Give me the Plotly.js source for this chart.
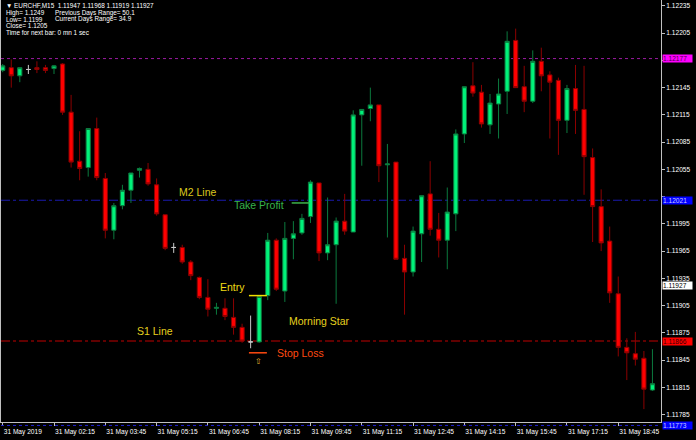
<!DOCTYPE html>
<html><head><meta charset="utf-8">
<script src="https://cdn.plot.ly/plotly-3.0.1.min.js"></script>
<style>html,body{margin:0;padding:0;background:#000;}#chart{width:696px;height:440px;}</style>
</head><body><div id="chart"></div>
<script>
// EURCHF M15, 31 May 2019, bars from 00:45 to 19:45
const open = [
1.12164, 1.12167, 1.12158, 1.12165, 1.12167, 1.12167, 1.12166, 1.12171, 1.12118, 1.12064,
1.12057, 1.12100, 1.12045, 1.11988, 1.12015, 1.12032, 1.12054, 1.12055, 1.12038, 1.12005,
1.11969, 1.11969, 1.11953, 1.11936, 1.11914, 1.11902, 1.11902, 1.11892, 1.11881, 1.11865,
1.11865, 1.11916, 1.11977, 1.11921, 1.11979, 1.11985, 1.12003, 1.12040, 1.11963, 1.11972,
1.11998, 1.11986, 1.12115, 1.12122, 1.12126, 1.12060, 1.12063, 1.11957, 1.11942, 1.11984,
1.12028, 1.11989, 1.11977, 1.12006, 1.12094, 1.12147, 1.12140, 1.12104, 1.12127, 1.12141,
1.12197, 1.12146, 1.12130, 1.12174, 1.12159, 1.12153, 1.12109, 1.12144, 1.12121, 1.12068,
1.12014, 1.11976, 1.11918, 1.11859, 1.11852, 1.11847, 1.11812];
const high = [
1.12171, 1.12176, 1.12167, 1.12170, 1.12174, 1.12170, 1.12170, 1.12172, 1.12137, 1.12097,
1.12100, 1.12112, 1.12051, 1.12018, 1.12038, 1.12051, 1.12057, 1.12062, 1.12045, 1.12005,
1.11974, 1.11972, 1.11955, 1.11937, 1.11934, 1.11908, 1.11913, 1.11913, 1.11885, 1.11894,
1.11916, 1.11985, 1.11979, 1.11997, 1.11998, 1.12006, 1.12043, 1.12040, 1.12024, 1.12002,
1.12028, 1.12120, 1.12121, 1.12145, 1.12126, 1.12083, 1.12063, 1.11972, 1.11992, 1.12026,
1.12064, 1.12007, 1.12035, 1.12099, 1.12146, 1.12173, 1.12148, 1.12138, 1.12155, 1.12207,
1.12210, 1.12169, 1.12186, 1.12189, 1.12163, 1.12156, 1.12148, 1.12170, 1.12169, 1.12078,
1.12033, 1.11992, 1.11937, 1.11869, 1.11876, 1.11855, 1.11857];
const low = [
1.12162, 1.12145, 1.12151, 1.12160, 1.12161, 1.12161, 1.12160, 1.12115, 1.12057, 1.12043,
1.12047, 1.12043, 1.11979, 1.11978, 1.12011, 1.12018, 1.12046, 1.12037, 1.12004, 1.11966,
1.11963, 1.11951, 1.11933, 1.11912, 1.11893, 1.11895, 1.11889, 1.11873, 1.11864, 1.11858,
1.11864, 1.11911, 1.11921, 1.11909, 1.11956, 1.11983, 1.11996, 1.11954, 1.11955, 1.11907,
1.11983, 1.11986, 1.12059, 1.12108, 1.12041, 1.11980, 1.11956, 1.11895, 1.11937, 1.11953,
1.11982, 1.11958, 1.11945, 1.11987, 1.12084, 1.12135, 1.12101, 1.12094, 1.12089, 1.12116,
1.12145, 1.12118, 1.12128, 1.12141, 1.12089, 1.12071, 1.12095, 1.12094, 1.12027, 1.11975,
1.11965, 1.11908, 1.11849, 1.11823, 1.11839, 1.11791, 1.11811];
const close = [
1.12169, 1.12158, 1.12167, 1.12165, 1.12165, 1.12164, 1.12169, 1.12118, 1.12063, 1.12056,
1.12100, 1.12046, 1.11988, 1.12015, 1.12032, 1.12051, 1.12056, 1.12039, 1.12006, 1.11968,
1.11969, 1.11953, 1.11938, 1.11914, 1.11901, 1.11903, 1.11893, 1.11881, 1.11866, 1.11865,
1.11915, 1.11977, 1.11923, 1.11979, 1.11984, 1.12001, 1.12041, 1.11963, 1.11972, 1.11998,
1.11987, 1.12115, 1.12121, 1.12126, 1.12059, 1.12061, 1.11956, 1.11942, 1.11987, 1.12026,
1.11989, 1.11977, 1.12008, 1.12094, 1.12146, 1.12139, 1.12105, 1.12128, 1.12138, 1.12196,
1.12145, 1.12130, 1.12174, 1.12158, 1.12151, 1.12109, 1.12144, 1.12120, 1.12069, 1.12014,
1.11974, 1.11919, 1.11859, 1.11853, 1.11846, 1.11813, 1.11819];

// time axis labels (bar index of each label)
const timeTickBars = [0, 6, 12, 18, 24, 30, 36, 42, 48, 54, 60, 66, 72];
const timeTickLabels = ['31 May 2019','31 May 02:15','31 May 03:45','31 May 05:15','31 May 06:45',
  '31 May 08:15','31 May 09:45','31 May 11:15','31 May 12:45','31 May 14:15','31 May 15:45',
  '31 May 17:15','31 May 18:45'];

// price axis ticks (labels hidden behind the level boxes are left blank)
const priceTicks = [1.11785,1.11815,1.11845,1.11875,1.11905,1.11935,1.11965,1.11995,
  1.12025,1.12055,1.12085,1.12115,1.12145,1.12175,1.12205,1.12235];
const hiddenTicks = [1.12025, 1.12175];

// horizontal levels
const levelNames  = ['R1', 'M2 Line', 'S1 Line', 'S2'];
const levelPrices = [1.12177, 1.12021, 1.11866, 1.11773];
const levelColors = ['#9A1AA0', '#1A1AB0', '#C00000', '#2020D0'];
const levelBoxBg  = ['#FF00FF', '#0000FF', '#FF0000', '#0000FF'];
const levelBoxFg  = ['#4A004A', '#C8C8FF', '#3A0000', '#C8C8FF'];
const levelDash   = ['dot', 'dashdot', 'dashdot', 'dot'];
const bidPrice = 1.11927;

// trade markers
const entryPrice = 1.11916, takeProfit = 1.12018, stopLoss = 1.11853;

// info panel
const infoLines = [
  '\u25BC EURCHF,M15  1.11947 1.11968 1.11919 1.11927',
  'High= 1.1249',
  'Low= 1.1199',
  'Close= 1.1205',
  'Time for next bar: 0 mn 1 sec'
];
const infoRight = ['Previous Days Range= 50.1', 'Current Days Range= 34.9'];

const yRange = [1.117768, 1.122415];

const idx = open.map((_, i) => i);
const isDoji = open.map((o, i) => o === close[i]);
const pick = (arr, want) => arr.filter((_, i) => isDoji[i] === want);

const traces = [
  {type:'candlestick', x: pick(idx,false), open: pick(open,false), high: pick(high,false),
   low: pick(low,false), close: pick(close,false), whiskerwidth: 0, hoverinfo:'skip',
   increasing:{line:{color:'#0B7A3E', width:1}, fillcolor:'#00F27A'},
   decreasing:{line:{color:'#8C0000', width:1}, fillcolor:'#FF0000'}},
  {type:'candlestick', x: pick(idx,true), open: pick(open,true), high: pick(high,true),
   low: pick(low,true), close: pick(close,true), whiskerwidth: 0, hoverinfo:'skip',
   increasing:{line:{color:'#C8C8C8', width:1}, fillcolor:'#C8C8C8'},
   decreasing:{line:{color:'#C8C8C8', width:1}, fillcolor:'#C8C8C8'}}
];

// level lines; a level just below the visible range is placed in paper space so it still shows
const toPaper = (p) => (p - yRange[0]) / (yRange[1] - yRange[0]);
const inside = (p) => p >= yRange[0] && p <= yRange[1];
const shapes = levelPrices.map((p, i) => inside(p)
  ? {type:'line', xref:'paper', x0:0, x1:1, yref:'y', y0:p, y1:p,
     line:{color: levelColors[i], width:1, dash: levelDash[i]}, layer:'below'}
  : {type:'line', xref:'paper', x0:0, x1:1, yref:'paper', y0:toPaper(p), y1:toPaper(p),
     line:{color: levelColors[i], width:1, dash: levelDash[i]}, layer:'above'});
shapes.push({type:'line', xref:'x', yref:'y', x0:28.8, x1:30.9, y0:entryPrice, y1:entryPrice, line:{color:'#F0E000', width:1.5}});
shapes.push({type:'line', xref:'x', yref:'y', x0:33.8, x1:35.9, y0:takeProfit, y1:takeProfit, line:{color:'#3DB24A', width:1.5}});
shapes.push({type:'line', xref:'x', yref:'y', x0:28.8, x1:30.9, y0:stopLoss, y1:stopLoss, line:{color:'#FF4A10', width:1.5}});

const F = 'Liberation Sans, Arial, sans-serif';
const annotations = [];
// right axis boxes
const priceBox = (p, bg, fg) => Object.assign({xref:'paper', x:1, xanchor:'left', xshift:1, yanchor:'middle',
    text: p.toFixed(5), showarrow:false, bgcolor: bg, borderpad:0, width:29, height:7,
    align:'left', font:{family:F, size:6.6, color: fg}},
    inside(p) ? {yref:'y', y:p} : {yref:'paper', y: toPaper(p)});
levelPrices.forEach((p, i) => annotations.push(priceBox(p, levelBoxBg[i], levelBoxFg[i])));
annotations.push(priceBox(bidPrice, '#FFFFFF', '#000000'));

// chart labels
const lbl = (text, x, y, color) => ({xref:'x', yref:'y', x, y, text, showarrow:false,
  xanchor:'center', yanchor:'middle', font:{family:F, size:10.5, color}});
annotations.push(lbl('M2 Line', 22.8, 1.12030, '#DCC81E'));
annotations.push(lbl('Take Profit', 30.0, 1.12016, '#36B44A'));
annotations.push(lbl('Entry', 26.9, 1.11925, '#F0DC14'));
annotations.push(lbl('Morning Star', 37.05, 1.11888, '#E6D21E'));
annotations.push(lbl('S1 Line', 17.8, 1.11877, '#E6D21E'));
annotations.push(lbl('Stop Loss', 34.8, 1.11853, '#FF4A10'));
annotations.push({xref:'x', yref:'y', x:29.9, y:1.11843, text:'\u21E7', showarrow:false,
  xanchor:'center', yanchor:'middle', font:{family:'DejaVu Sans', size:8, color:'#E8B830'}});

// info panel
const plotH = 422;
const py = (pix) => 1 - pix / plotH;
const infoY = [5.7, 13.3, 19.2, 25.2, 32.4];
infoLines.forEach((t, i) => annotations.push({xref:'paper', yref:'paper', x:0.004, y:py(infoY[i]),
  xanchor:'left', yanchor:'middle', text:t, showarrow:false, font:{family:F, size:6.4, color:'#FFFFFF'}}));
infoRight.forEach((t, i) => annotations.push({xref:'paper', yref:'paper', x:0.079, y:py(infoY[i+1]),
  xanchor:'left', yanchor:'middle', text:t, showarrow:false, font:{family:F, size:6.4, color:'#FFFFFF'}}));

const layout = {
  width:696, height:440, margin:{l:1, r:35, t:0, b:18},
  paper_bgcolor:'#000000', plot_bgcolor:'#000000', showlegend:false,
  xaxis:{range:[-0.2, 77], rangeslider:{visible:false}, tickmode:'array', tickvals: timeTickBars,
    ticktext: timeTickLabels, ticks:'outside', ticklen:3, tickcolor:'#C0C0C0',
    ticklabelposition:'outside right', ticklabelstandoff:3, tickfont:{family:F, size:6.6, color:'#FFFFFF'},
    showgrid:false, zeroline:false, showline:true, linecolor:'#C0C0C0', linewidth:1, mirror:false,
    fixedrange:true},
  yaxis:{side:'right', range: yRange, tickmode:'array', tickvals: priceTicks,
    ticktext: priceTicks.map(v => hiddenTicks.includes(v) ? '' : v.toFixed(5)), ticks:'outside', ticklen:3, tickcolor:'#C0C0C0',
    tickfont:{family:F, size:6.6, color:'#FFFFFF'}, showgrid:false, zeroline:false,
    showline:true, linecolor:'#C0C0C0', linewidth:1, mirror:true, fixedrange:true},
  shapes, annotations
};

Plotly.newPlot('chart', traces, layout, {staticPlot:true, displayModeBar:false});
</script>
</body></html>
